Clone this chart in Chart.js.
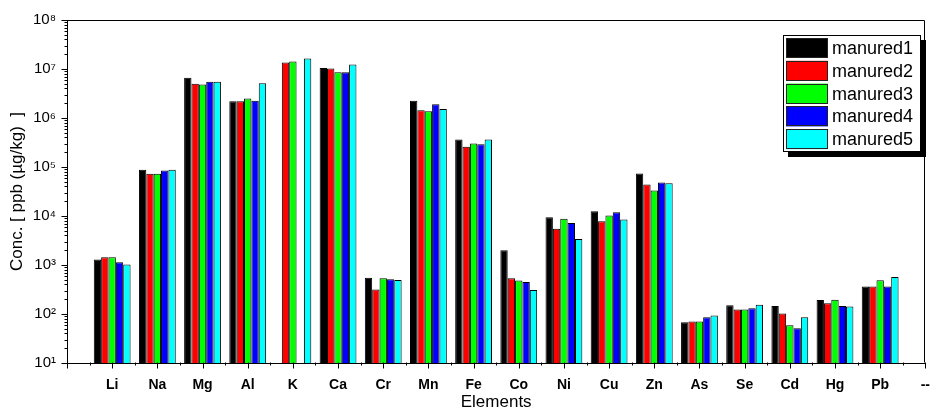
<!DOCTYPE html>
<html>
<head>
<meta charset="utf-8">
<script src="https://cdn.jsdelivr.net/npm/chart.js@4/dist/chart.umd.min.js"></script>
<style>
  html, body { margin: 0; padding: 0; background: #fff; }
  #wrap { width: 944px; height: 418px; }
</style>
</head>
<body>
<div id="wrap"><canvas id="c" width="944" height="418"></canvas></div>
<script>
// Element categories along the x axis
const elements = ['Li', 'Na', 'Mg', 'Al', 'K', 'Ca', 'Cr', 'Mn', 'Fe', 'Co', 'Ni', 'Cu', 'Zn', 'As', 'Se', 'Cd', 'Hg', 'Pb'];

// Concentrations in ppb (µg/kg) for each manured sample
const manured1 = [1290, 88000, 6.6e6, 2.2e6, null, 1.05e7, 550, 2.25e6, 3.65e5, 2000, 9400, 12500, 74000, 68, 150, 146, 193, 362];
const manured2 = [1440, 73000, 5.0e6, 2.2e6, 1.35e7, 1.02e7, 315, 1.44e6, 2.6e5, 536, 5500, 7800, 43700, 70, 123, 102, 165, 362];
const manured3 = [1440, 73000, 4.8e6, 2.5e6, 1.42e7, 8.6e6, 536, 1.37e6, 3.0e5, 481, 8800, 10200, 33000, 70, 123, 59, 196, 487];
const manured4 = [1135, 85000, 5.5e6, 2.26e6, null, 8.6e6, 511, 1.9e6, 2.9e5, 450, 7200, 11900, 48000, 86, 131, 51, 146, 362];
const manured5 = [1020, 88000, 5.5e6, 5.1e6, 1.63e7, 1.23e7, 494, 1.53e6, 3.62e5, 309, 3400, 8440, 46500, 93, 155, 86, 143, 569];

// Decade ticks on the log axis
const yTicks = [1e1, 1e2, 1e3, 1e4, 1e5, 1e6, 1e7, 1e8];
const supDigits = {'0':'⁰','1':'¹','2':'²','3':'³','4':'⁴','5':'⁵','6':'⁶','7':'⁷','8':'⁸','9':'⁹'};

// Category axis: an empty slot on the left edge, a '--' slot on the right edge
const labels = [''].concat(elements, ['--']);
const pad = arr => [null].concat(arr, [null]);

const FONT = "'Liberation Sans', Arial, Helvetica, sans-serif";

const series = [
  { label: 'manured1', data: manured1, color: '#000000' },
  { label: 'manured2', data: manured2, color: '#ff0000' },
  { label: 'manured3', data: manured3, color: '#00ff00' },
  { label: 'manured4', data: manured4, color: '#0000ff' },
  { label: 'manured5', data: manured5, color: '#00ffff' }
];

// Outer frame plus major/minor tick marks
const frameAndTicks = {
  id: 'frameAndTicks',
  afterDraw(chart) {
    const { ctx, chartArea: a, scales: { x, y } } = chart;
    ctx.save();
    ctx.strokeStyle = '#000';
    ctx.lineWidth = 1;
    ctx.beginPath();
    const L = Math.round(a.left) + 0.5, R = Math.round(a.right) - 0.5;
    const T = Math.round(a.top) + 0.5, B = Math.round(a.bottom) - 0.5;
    ctx.moveTo(L, T); ctx.lineTo(R, T); ctx.lineTo(R, B);
    // y ticks: decades long, 2..9 short
    for (let e = 1; e <= 8; e++) {
      for (let k = 1; k <= 9; k++) {
        const v = k * Math.pow(10, e);
        if (v > y.max * 1.0001) break;
        const py = Math.round(y.getPixelForValue(v)) + 0.5;
        const len = k === 1 ? 6 : 3;
        ctx.moveTo(L - len, py); ctx.lineTo(L, py);
      }
    }
    // x ticks: category centers long, midpoints short
    for (let i = 0; i < labels.length; i++) {
      const px = Math.round(x.getPixelForValue(i)) + 0.5;
      ctx.moveTo(px, B); ctx.lineTo(px, B + 6);
      if (i < labels.length - 1) {
        const mid = Math.round((x.getPixelForValue(i) + x.getPixelForValue(i + 1)) / 2) + 0.5;
        ctx.moveTo(mid, B); ctx.lineTo(mid, B + 3);
      }
    }
    ctx.stroke();
    ctx.restore();
  }
};

// Boxed legend with drop shadow, built from the datasets
const boxLegend = {
  id: 'boxLegend',
  afterDraw(chart) {
    const { ctx } = chart;
    const sets = chart.data.datasets;
    const bx = 783, by = 35, bw = 138, bh = 117, sh = 5;
    ctx.save();
    ctx.fillStyle = '#000';
    ctx.fillRect(bx + sh, by + sh, bw, bh);
    ctx.fillStyle = '#fff';
    ctx.fillRect(bx, by, bw, bh);
    ctx.strokeStyle = '#000';
    ctx.lineWidth = 1;
    ctx.strokeRect(bx + 0.5, by + 0.5, bw - 1, bh - 1);
    ctx.font = '18px ' + FONT;
    ctx.textBaseline = 'middle';
    ctx.textAlign = 'left';
    sets.forEach((ds, i) => {
      const ry = by + 3 + i * 22.8;
      ctx.fillStyle = ds.backgroundColor;
      ctx.fillRect(786, ry, 42, 20);
      ctx.strokeStyle = '#222';
      ctx.strokeRect(786.5, Math.round(ry) + 0.5, 41, 19);
      ctx.fillStyle = '#000';
      ctx.fillText(ds.label, 832, ry + 11);
    });
    ctx.restore();
  }
};

new Chart(document.getElementById('c'), {
  type: 'bar',
  data: {
    labels: labels,
    datasets: series.map(s => ({
      label: s.label,
      data: pad(s.data),
      backgroundColor: s.color,
      borderColor: '#000',
      borderWidth: 1,
      categoryPercentage: 0.815,
      barPercentage: 1.0
    }))
  },
  options: {
    responsive: false,
    animation: false,
    layout: { padding: { left: 0, top: 20, right: 5, bottom: 0 } },
    plugins: { legend: { display: false }, tooltip: { enabled: false } },
    scales: {
      x: {
        type: 'category',
        offset: false,
        grid: { display: false, drawTicks: false },
        border: { display: true, color: '#000', width: 1 },
        ticks: {
          autoSkip: false, maxRotation: 0, minRotation: 0, padding: 14,
          color: '#000', font: { family: FONT, size: 14, weight: 'bold' }
        },
        title: {
          display: true, text: 'Elements', color: '#000',
          font: { family: FONT, size: 17 }, padding: { top: 0, bottom: 5 }
        },
        afterFit(s) { s.height = 55; }
      },
      y: {
        type: 'logarithmic',
        min: 10, max: 1e8,
        grid: { display: false, drawTicks: false },
        border: { display: true, color: '#000', width: 1 },
        afterBuildTicks(s) { s.ticks = yTicks.map(v => ({ value: v, major: true })); },
        ticks: {
          padding: 11, color: '#000',
          font: { family: FONT, size: 15 },
          callback: v => '10' + String(Math.round(Math.log10(v))).split('').map(d => supDigits[d]).join('')
        },
        title: {
          display: true, text: 'Conc. [ ppb (µg/kg)  ]', color: '#000',
          font: { family: FONT, size: 17 }, padding: { top: 7, bottom: 0 }
        },
        afterFit(s) { s.width = 67; }
      }
    }
  },
  plugins: [frameAndTicks, boxLegend]
});
</script>
</body>
</html>
